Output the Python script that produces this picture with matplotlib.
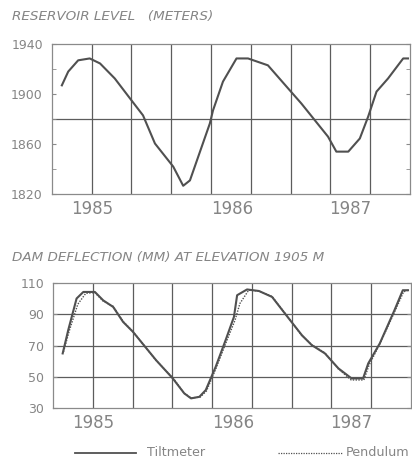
import matplotlib
matplotlib.use("Agg")
import matplotlib.pyplot as plt
from matplotlib.lines import Line2D

# Reservoir level (x in grid units, 0..9)
res_x = [0.25, 0.41, 0.66, 0.95, 1.21, 1.58, 2.0, 2.29, 2.59, 3.05, 3.3, 3.47,
         3.97, 4.05, 4.3, 4.64, 4.93, 5.43, 5.98, 6.27, 6.94, 7.15, 7.45, 7.74,
         7.95, 8.16, 8.45, 8.83, 8.95]
res_y = [1907, 1918, 1927, 1928.5, 1924.5, 1912.5, 1895, 1883, 1860.5, 1842, 1826.7, 1831,
         1876.5, 1887, 1910, 1928.5, 1928.5, 1923, 1903, 1892.5, 1866, 1854, 1854, 1864.5,
         1882, 1902, 1912.5, 1928.5, 1928.5]

# Dam deflection - tiltmeter
tilt_x = [0.24, 0.38, 0.59, 0.76, 1.05, 1.26, 1.51, 1.76, 2.01, 2.59, 3.01, 3.3, 3.47,
          3.68, 3.84, 4.09, 4.34, 4.55, 4.63, 4.88, 5.18, 5.51, 5.93, 6.26, 6.51, 6.84,
          7.18, 7.51, 7.8, 7.93, 8.22, 8.59, 8.8, 8.93]
tilt_y = [65, 80, 100.2, 104.4, 104.4, 99, 94.8, 85.2, 78.8, 60.7, 49, 39.4, 36.2,
          37.2, 41.5, 56.4, 73.5, 88.4, 102.3, 106, 105, 101.2, 87.4, 76.7, 70.3, 65,
          55.4, 49, 49, 58.6, 71.4, 92.7, 105.5, 105.5]

# Dam deflection - pendulum
pend_x = [0.26, 0.4, 0.62, 0.82, 1.05, 1.26, 1.51, 1.76, 2.01, 2.59, 3.01, 3.3, 3.47,
          3.7, 3.86, 4.1, 4.36, 4.58, 4.7, 4.92, 5.18, 5.51, 5.93, 6.26, 6.51, 6.84,
          7.18, 7.5, 7.82, 7.95, 8.22, 8.6, 8.82, 8.93]
pend_y = [66, 79, 96.5, 103.5, 104, 98.5, 95.2, 85.5, 79, 60.5, 49.5, 39.5, 36.5,
          37, 41, 55.5, 72.5, 86.5, 97, 105.5, 105, 101.5, 87.6, 76.3, 70.5, 65.3,
          55, 48, 48, 57.5, 71, 92, 104.5, 105.5]

year_labels = ["1985", "1986", "1987"]
year_pos = [1.0, 4.52, 7.49]
grid_x = [1, 2, 3, 4, 5, 6, 7, 8]

line_c = "#505050"
text_c = "#858585"
grid_c = "#5c5c5c"

fig = plt.figure(figsize=(4.12, 4.59), dpi=100)

def style(ax):
    for s in ax.spines.values():
        s.set_color("#8a8a8a")
        s.set_linewidth(0.9)
    for gx in grid_x:
        ax.axvline(gx, color=grid_c, lw=0.9, zorder=1)
    ax.set_xlim(0, 9)
    ax.set_xticks(year_pos)
    ax.set_xticklabels(year_labels, fontsize=12, color=text_c)
    ax.tick_params(axis="x", length=0, pad=4)
    ax.tick_params(axis="y", direction="in", length=3, color="#8a8a8a",
                   labelsize=9, labelcolor=text_c, pad=6.5, right=True)
    ax.tick_params(axis="y", which="minor", direction="in", length=3, color="#8a8a8a", right=True)

# Top chart
ax1 = fig.add_axes([0.126, 0.577, 0.869, 0.327])
style(ax1)
ax1.set_ylim(1820, 1940)
ax1.set_yticks([1820, 1860, 1900, 1940])
ax1.set_yticks([1840, 1880, 1920], minor=True)
ax1.axhline(1880, color=grid_c, lw=0.9, zorder=1)
ax1.plot(res_x, res_y, color=line_c, lw=1.5, zorder=3)
fig.text(0.03, 0.963, "RESERVOIR LEVEL   (METERS)", fontsize=9.7, style="italic",
         color=text_c, va="center", ha="left")

# Bottom chart
ax2 = fig.add_axes([0.129, 0.111, 0.868, 0.272])
style(ax2)
ax2.set_ylim(30, 110)
ax2.set_yticks([30, 50, 70, 90, 110])
for gy in [50, 70, 90]:
    ax2.axhline(gy, color=grid_c, lw=0.9, zorder=1)
ax2.plot(pend_x, pend_y, color=line_c, lw=1.0, ls=(0, (1, 1)), zorder=3)
ax2.plot(tilt_x, tilt_y, color=line_c, lw=1.5, zorder=4)
fig.text(0.03, 0.44, "DAM DEFLECTION (MM) AT ELEVATION 1905 M", fontsize=9.7, style="italic",
         color=text_c, va="center", ha="left")

# Legend
ly = 1 - 452.5 / 459
fig.add_artist(Line2D([75 / 412, 136 / 412], [ly, ly], color=line_c, lw=1.3))
fig.text(147 / 412, ly, "Tiltmeter", fontsize=9.2, color=text_c, va="center", ha="left")
fig.add_artist(Line2D([278 / 412, 343 / 412], [ly, ly], color=line_c, lw=0.9, ls=(0, (1, 1))))
fig.text(409 / 412, ly, "Pendulum", fontsize=9.2, color=text_c, va="center", ha="right")

fig.savefig("out.png", dpi=100)
